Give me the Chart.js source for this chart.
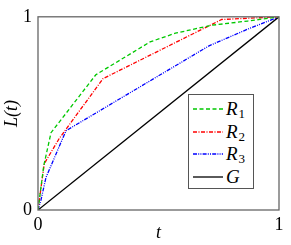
<!DOCTYPE html>
<html>
<head>
<meta charset="utf-8">
<script src="https://cdn.jsdelivr.net/npm/chart.js@4.4.0/dist/chart.umd.min.js"></script>
<style>
  body { margin: 0; background: #fff; }
  #wrap { position: relative; width: 291px; height: 245px; }
  #legend {
    position: absolute; left: 188px; top: 94px; width: 66px; height: 95px;
    border: 1px solid #555; background: #fff; box-sizing: border-box;
    font-family: "Liberation Serif", serif; font-size: 19px;
  }
  .row { position: absolute; left: 4px; height: 22px; display: flex; align-items: center; }
  .row svg { width: 30px; height: 6px; margin-right: 3px; }
  .row span { font-style: italic; }
  .row sub { font-style: normal; font-size: 13px; position: relative; top: 5px; vertical-align: baseline; margin-left: 1px; }
</style>
</head>
<body>
<div id="wrap">
  <canvas id="lorenzChart"></canvas>
  <div id="legend"></div>
</div>
<script>
// Data
const r1T = [0, 0.024, 0.054, 0.24, 0.465, 0.57, 0.72, 0.87, 1];
const r1L = [0, 0.23, 0.40, 0.70, 0.87, 0.915, 0.956, 0.978, 1];
const r2T = [0, 0.026, 0.088, 0.27, 0.762, 1];
const r2L = [0, 0.24, 0.37, 0.68, 0.986, 1];
const r3T = [0, 0.012, 0.033, 0.116, 0.71, 0.87, 1];
const r3L = [0, 0.05, 0.168, 0.41, 0.85, 0.936, 1];
const gT = [0, 1];
const gL = [0, 1];
const tickValues = [0, 1];
const tickLabels = ['0', '1'];

const seriesNames = ['R1', 'R2', 'R3', 'G'];

function toPoints(xs, ys) {
    return xs.map((x, i) => ({ x: x, y: ys[i] }));
}

const series = [
    { name: 'R', sub: '1', data: toPoints(r1T, r1L), color: '#00c800', dash: [4, 2.5] },
    { name: 'R', sub: '2', data: toPoints(r2T, r2L), color: '#ff0000', dash: [4, 1.5, 1, 1.5] },
    { name: 'R', sub: '3', data: toPoints(r3T, r3L), color: '#0000ff', dash: [4, 1.2, 1, 1.2, 1, 1.2] },
    { name: 'G', sub: '', data: toPoints(gT, gL), color: '#000000', dash: [] }
];

// frame around the plot area
const framePlugin = {
    id: 'frame',
    afterDraw(chart) {
        const a = chart.chartArea;
        const ctx = chart.ctx;
        ctx.save();
        ctx.strokeStyle = '#666';
        ctx.lineWidth = 1.3;
        ctx.strokeRect(a.left, a.top, a.right - a.left, a.bottom - a.top);
        ctx.restore();
    }
};

const tickFont = { family: '"Liberation Serif", serif', size: 18 };

const ctx = document.getElementById('lorenzChart').getContext('2d');
new Chart(ctx, {
    type: 'scatter',
    data: {
        datasets: series.map((s, i) => ({
            label: seriesNames[i],
            data: s.data,
            showLine: true,
            borderColor: s.color,
            backgroundColor: s.color,
            borderDash: s.dash,
            borderWidth: 1.3,
            pointRadius: 0,
            tension: 0
        }))
    },
    options: {
        responsive: true,
        maintainAspectRatio: false,
        animation: false,
        layout: { padding: { top: 12, right: 12, left: 0, bottom: 0 } },
        plugins: {
            legend: { display: false },
            tooltip: { enabled: false }
        },
        scales: {
            x: {
                type: 'linear',
                min: 0,
                max: 1,
                grid: { display: false, drawTicks: false },
                border: { display: false },
                afterBuildTicks: function(scale) {
                    scale.ticks = tickValues.map(v => ({ value: v }));
                },
                afterFit: function(scale) { scale.height = 35; },
                ticks: {
                    font: tickFont,
                    color: '#000',
                    padding: 4,
                    maxRotation: 0,
                    callback: function(value) {
                        return tickLabels[tickValues.indexOf(value)];
                    }
                },
                title: {
                    display: true,
                    text: 't',
                    color: '#000',
                    font: { family: '"Liberation Serif", serif', size: 18, style: 'italic' },
                    padding: { top: 0, bottom: 1 }
                }
            },
            y: {
                type: 'linear',
                min: 0,
                max: 1,
                grid: { display: false, drawTicks: false },
                border: { display: false },
                afterBuildTicks: function(scale) {
                    scale.ticks = tickValues.map(v => ({ value: v }));
                },
                afterFit: function(scale) { scale.width = 38; },
                ticks: {
                    font: tickFont,
                    color: '#000',
                    padding: 6,
                    callback: function(value) {
                        return tickLabels[tickValues.indexOf(value)];
                    }
                },
                title: {
                    display: true,
                    text: 'L(t)',
                    color: '#000',
                    font: { family: '"Liberation Serif", serif', size: 18, style: 'italic' },
                    padding: { top: 1, bottom: 0 }
                }
            }
        }
    },
    plugins: [framePlugin]
});

// legend box inside the plot
const legend = document.getElementById('legend');
const rowTops = [3, 26, 48, 71];
series.forEach((s, i) => {
    const row = document.createElement('div');
    row.className = 'row';
    row.style.top = rowTops[i] + 'px';
    row.innerHTML =
        '<svg viewBox="0 0 30 6"><line x1="0" y1="3" x2="30" y2="3" stroke="' + s.color +
        '" stroke-width="1.3" stroke-dasharray="' + (s.dash.length ? s.dash.join(' ') : 'none') + '"/></svg>' +
        '<span>' + s.name + '</span>' + (s.sub ? '<sub>' + s.sub + '</sub>' : '');
    legend.appendChild(row);
});
</script>
</body>
</html>
